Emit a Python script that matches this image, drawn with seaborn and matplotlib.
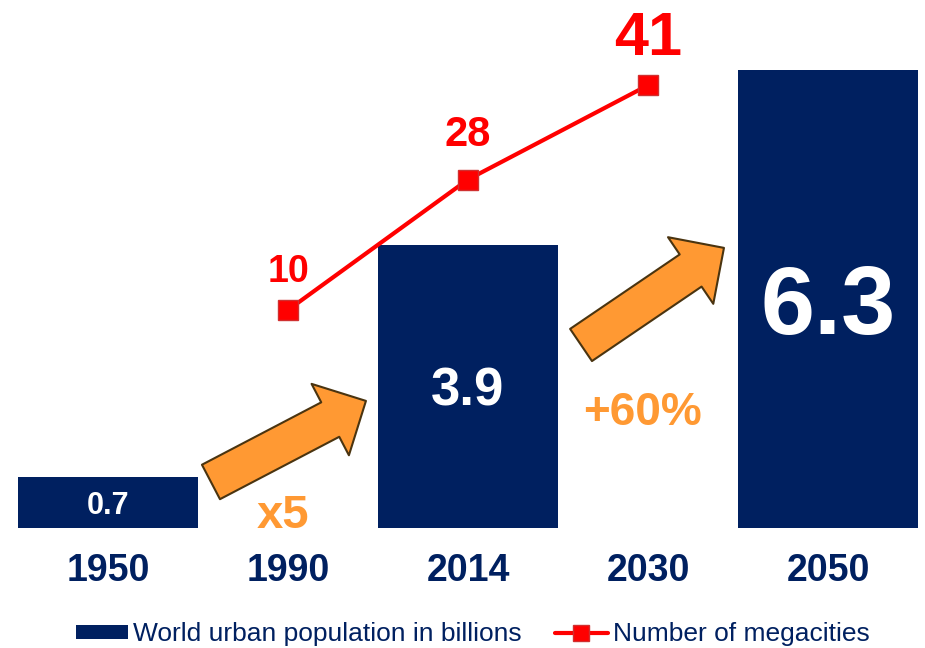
import matplotlib
matplotlib.use("Agg")
import matplotlib.pyplot as plt
from matplotlib.patches import FancyArrowPatch, ArrowStyle, Patch
from matplotlib.lines import Line2D
import seaborn as sns
import pandas as pd

# ---- data -------------------------------------------------------------
years = ["1950", "1990", "2014", "2030", "2050"]
pop_years = ["1950", "2014", "2050"]
urban_pop_bn = [0.7, 3.9, 6.3]
mega_years = ["1990", "2014", "2030"]
megacities = [10, 28, 41]
pop_label_sizes = [22, 38, 70]
mega_label_sizes = [27, 30, 44]
mega_label_offsets = [20, 24, 22]

NAVY = "#002060"
RED = "#FF0000"
ORANGE = "#FF9933"
ARROW_EDGE = "#4A3410"

sns.set_theme(style="white")
plt.rcParams["font.family"] = ["Liberation Sans", "DejaVu Sans"]

fig = plt.figure(figsize=(9.25, 6.48), dpi=100)
ax = fig.add_axes([18 / 925, 120 / 648, 900 / 925, 528 / 648])

# ---- bars: urban population ------------------------------------------
bars_df = pd.DataFrame({"year": pop_years, "pop": urban_pop_bn})
sns.barplot(data=bars_df, x="year", y="pop", order=years, color=NAVY,
            saturation=1, width=1.0, ax=ax, linewidth=0)
ax.set_xlim(-0.5, len(years) - 0.5)
ax.set_ylim(0, 7.27)

for yr, v, fs in zip(pop_years, urban_pop_bn, pop_label_sizes):
    ax.annotate(f"{v:.1f}", xy=(years.index(yr), v / 2), xytext=(0, -0.36 * fs),
                textcoords="offset points", ha="center", va="baseline",
                color="white", fontsize=fs, fontweight="bold")

# ---- line: number of megacities --------------------------------------
ax2 = ax.twinx()
line_df = pd.DataFrame({"pos": [years.index(y) for y in mega_years],
                        "count": megacities})
sns.lineplot(data=line_df, x="pos", y="count", ax=ax2, color=RED, lw=3,
             marker="s", markersize=14, markerfacecolor=RED,
             markeredgecolor="#D03030", markeredgewidth=1)
ax2.set_ylim(-20.07, 52.76)
ax2.set_xlim(-0.5, len(years) - 0.5)

for yr, v, fs, off in zip(mega_years, megacities, mega_label_sizes,
                          mega_label_offsets):
    ax2.annotate(str(v), xy=(years.index(yr), v), xytext=(0, off),
                 textcoords="offset points", ha="center", va="baseline",
                 color=RED, fontsize=fs, fontweight="bold")

# ---- growth arrows ----------------------------------------------------
arrow_style = ArrowStyle.Simple(head_length=29, head_width=58, tail_width=28)
for tail, tip in [((0.572, 0.634), (1.433, 1.75)),
                  ((2.628, 2.52), (3.422, 3.857))]:
    arr = FancyArrowPatch(tail, tip, arrowstyle=arrow_style, mutation_scale=1,
                          shrinkA=0, shrinkB=0, facecolor=ORANGE,
                          edgecolor=ARROW_EDGE, linewidth=1.5, zorder=5)
    ax.add_patch(arr)

ax.text(0.97, 0.0, "x5", ha="center", va="baseline", color=ORANGE,
        fontsize=34, fontweight="bold", zorder=6)
ax.text(2.97, 1.42, "+60%", ha="center", va="baseline", color=ORANGE,
        fontsize=33, fontweight="bold", zorder=6)

# ---- axes styling -----------------------------------------------------
for a in (ax, ax2):
    for s in a.spines.values():
        s.set_visible(False)
    a.set_yticks([])
    a.set_ylabel("")
    a.set_xlabel("")
ax2.set_xticks([])
ax.set_xticks(range(len(years)))
ax.set_xticklabels(years, fontsize=27, fontweight="bold", color=NAVY)
ax.tick_params(axis="x", length=0, pad=18)
if ax2.get_legend():
    ax2.get_legend().remove()

# ---- legend -----------------------------------------------------------
handles = [Patch(facecolor=NAVY, edgecolor="none"),
           Line2D([], [], color=RED, lw=3, marker="s", markersize=12,
                  markerfacecolor=RED, markeredgecolor="#D03030")]
labels = ["World urban population in billions", "Number of megacities"]
fig.legend(handles, labels, loc="center", bbox_to_anchor=(0.511, 0.021),
           ncol=2, frameon=False, fontsize=19, labelcolor=NAVY,
           handlelength=2.0, handleheight=0.49, handletextpad=0.19,
           columnspacing=1.25, borderaxespad=0, borderpad=0)

fig.savefig("out.png", dpi=100)
